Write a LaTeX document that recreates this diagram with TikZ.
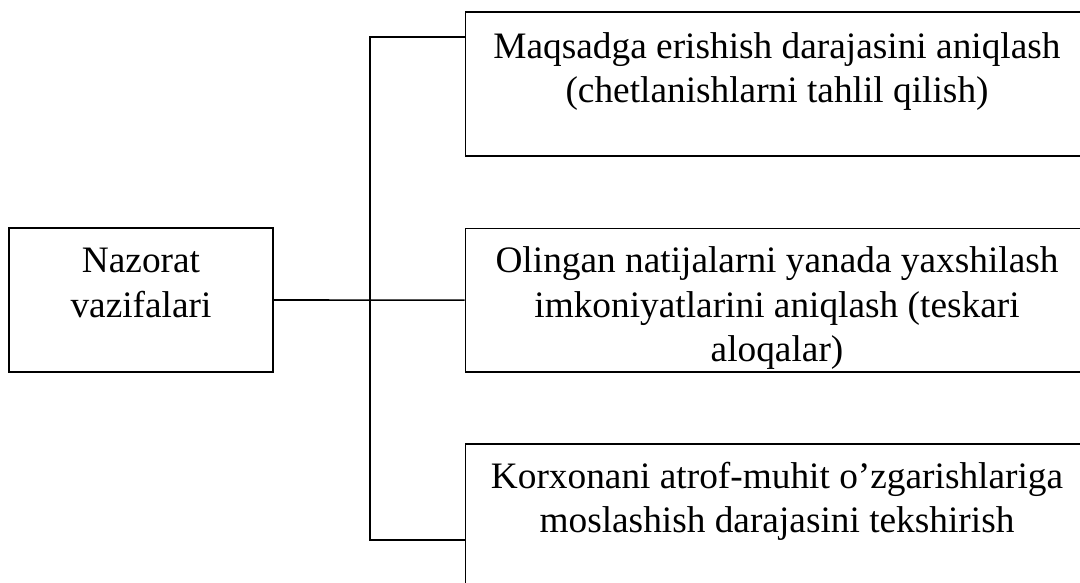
\documentclass[tikz,border=0pt]{standalone}
\usepackage{fontspec}
\setmainfont{Liberation Serif}
\newcommand{\lines}[1]{\begin{tabular}[t]{@{}c@{}}#1\end{tabular}}
\begin{document}
\begin{tikzpicture}[x=0.75pt,y=-0.75pt,
  box/.style={draw, line width=1.2pt, inner sep=0pt,
    minimum width=466.1pt, minimum height=107.6pt},
  rootbox/.style={draw, line width=1.2pt, inner sep=0pt,
    minimum width=198pt, minimum height=108pt},
  lbl/.style={anchor=base, inner sep=0pt,
    font=\fontsize{28pt}{33.3pt}\selectfont},
  wire/.style={line width=1.2pt}]
\clip (0,0) rectangle (1080,582);

% boxes
\node[rootbox] (root) at (141,300) {};
\node[box] (goal) at (776.25,84) {};
\node[box] (impr) at (776.25,300.15) {};
\node[box] (adapt) at (776.25,515.75) {};

% texts
\node[lbl] (rootT) at (141,272.7) {\lines{Nazorat\\vazifalari}};
\node[lbl] (goalT) at (777,58.3) {\lines{Maqsadga erishish darajasini aniqlash\\(chetlanishlarni tahlil qilish)}};
\begin{scope}
  \clip (impr.north west) rectangle (impr.south east);
  \node[lbl] (imprT) at (777,272.7) {\lines{Olingan natijalarni yanada yaxshilash\\imkoniyatlarini aniqlash (teskari\\aloqalar)}};
\end{scope}
\node[lbl] (adaptT) at (777,488) {\lines{Korxonani atrof-muhit o’zgarishlariga\\moslashish darajasini tekshirish}};

% connectors
\coordinate (jt) at (370,36.7);
\coordinate (jb) at (370,540);
\draw[wire] (root.east) -- (impr.west);
\draw[wire] (goal.west |- jt) -- (jt) -- (jb) -- (adapt.west |- jb);
\end{tikzpicture}
\end{document}
